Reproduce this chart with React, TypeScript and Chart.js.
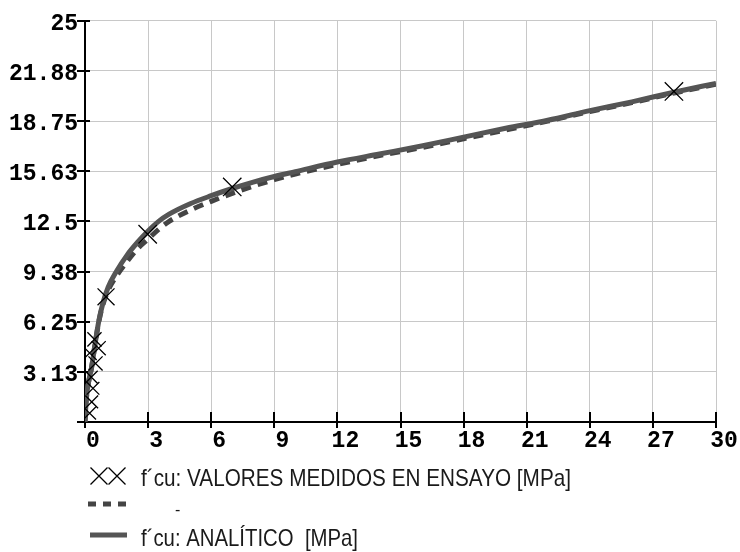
import React, { useEffect, useRef } from "react";
import { Chart, registerables } from "chart.js";

Chart.register(...registerables);

// ---- data ----
const xTickValues = [0, 3, 6, 9, 12, 15, 18, 21, 24, 27, 30];
const xTickLabels = ["0", "3", "6", "9", "12", "15", "18", "21", "24", "27", "30"];
const yTickValues = [0, 3.125, 6.25, 9.375, 12.5, 15.625, 18.75, 21.875, 25];
const yTickLabels = ["", "3.13", "6.25", "9.38", "12.5", "15.63", "18.75", "21.88", "25"];

const measuredX = [0.22, 0.32, 0.38, 0.3, 0.5, 0.22, 0.65, 0.45, 1.0, 2.98, 7.0, 28.0];
const measuredY = [0.55, 1.25, 2.1, 2.8, 3.65, 4.3, 4.6, 5.15, 7.8, 11.7, 14.65, 20.6];
const measuredSize = [9, 9, 9, 9, 10, 10, 10, 10, 12, 13, 13, 13];

const curveX = [0, 0.05, 0.1, 0.2, 0.3, 0.45, 0.65, 0.85, 1.1, 1.5, 2, 2.5, 3, 3.5, 4, 5, 6, 7, 8, 9, 10, 12, 14, 16, 18, 20, 22, 24, 26, 28, 30];
const analyticY = [0, 1.2, 1.9, 2.7, 3.3, 4.6, 6.25, 7.4, 8.4, 9.4, 10.4, 11.2, 11.9, 12.5, 12.95, 13.6, 14.1, 14.55, 14.95, 15.3, 15.6, 16.2, 16.7, 17.2, 17.75, 18.3, 18.8, 19.4, 19.95, 20.55, 21.1];
const dashedY = [0, 1.2, 1.9, 2.7, 3.3, 4.6, 6.2, 7.3, 8.2, 9.1, 10.0, 10.8, 11.4, 12.0, 12.5, 13.2, 13.75, 14.25, 14.7, 15.1, 15.45, 16.05, 16.6, 17.1, 17.65, 18.2, 18.75, 19.35, 19.9, 20.5, 21.05];

const labelMeasured = "f\u00B4cu: VALORES MEDIDOS EN ENSAYO [MPa]";
const labelDashed = "-";
const labelAnalytic = "f\u00B4cu: ANAL\u00CDTICO  [MPa]";

const TICK_FONT = "bold 23px 'Liberation Mono', 'Courier New', monospace";
const LEGEND_FONT = "24px 'Liberation Sans Narrow', 'Liberation Sans', Arial, sans-serif";

function fitText(ctx: CanvasRenderingContext2D, text: string, x: number, y: number, w: number) {
  ctx.save();
  ctx.font = LEGEND_FONT;
  ctx.textBaseline = "alphabetic";
  ctx.textAlign = "left";
  const m = ctx.measureText(text).width;
  ctx.translate(x, y);
  ctx.scale(w / m, 1);
  ctx.fillStyle = "#1a1a1a";
  ctx.fillText(text, 0, 0);
  ctx.restore();
}

const tickMarks = {
  id: "tickMarks",
  beforeDatasetsDraw(chart: any) {
    const ctx = chart.ctx as CanvasRenderingContext2D;
    const { left, bottom } = chart.chartArea;
    const xs = chart.scales.x;
    const ys = chart.scales.y;
    ctx.save();
    ctx.strokeStyle = "#000";
    ctx.lineWidth = 2;
    ctx.beginPath();
    yTickValues.forEach((v) => {
      const p = Math.round(ys.getPixelForValue(v));
      ctx.moveTo(left - 8, p);
      ctx.lineTo(left + 5, p);
    });
    xTickValues.forEach((v) => {
      const p = Math.round(xs.getPixelForValue(v));
      ctx.moveTo(p, bottom - 10);
      ctx.lineTo(p, bottom + 6);
    });
    ctx.stroke();
    ctx.restore();
  },
};

const legendPlugin = {
  id: "customLegend",
  afterDraw(chart: any) {
    const ctx = chart.ctx as CanvasRenderingContext2D;
    ctx.save();
    // row 1: two crosses
    ctx.strokeStyle = "#000";
    ctx.lineWidth = 1.3;
    [99, 117].forEach((cx) => {
      const cy = 476;
      const r = 8.5;
      ctx.beginPath();
      ctx.moveTo(cx - r, cy - r);
      ctx.lineTo(cx + r, cy + r);
      ctx.moveTo(cx - r, cy + r);
      ctx.lineTo(cx + r, cy - r);
      ctx.stroke();
    });
    fitText(ctx, labelMeasured, 141, 486, 430);
    // row 2: dashed
    ctx.strokeStyle = "#444";
    ctx.lineWidth = 5;
    ctx.setLineDash([8, 7]);
    ctx.beginPath();
    ctx.moveTo(88, 504);
    ctx.lineTo(126, 504);
    ctx.stroke();
    ctx.setLineDash([]);
    ctx.font = "16px 'Liberation Sans', Arial, sans-serif";
    ctx.fillStyle = "#1a1a1a";
    ctx.fillText(labelDashed, 175, 515);
    // row 3: solid
    ctx.strokeStyle = "#555";
    ctx.lineWidth = 5;
    ctx.beginPath();
    ctx.moveTo(90, 535);
    ctx.lineTo(127, 535);
    ctx.stroke();
    fitText(ctx, labelAnalytic, 141, 546, 217);
    ctx.restore();
  },
};

export default function App() {
  const ref = useRef<HTMLCanvasElement | null>(null);
  useEffect(() => {
    if (!ref.current) return;
    const chart = new Chart(ref.current, {
      type: "scatter",
      data: {
        datasets: [
          {
            label: labelMeasured,
            data: measuredX.map((x, i) => ({ x, y: measuredY[i] })),
            pointStyle: "crossRot",
            pointRadius: measuredSize,
            pointBorderColor: "#000",
            pointBorderWidth: 1.3,
            borderColor: "#000",
            backgroundColor: "#000",
            showLine: false,
            order: 0,
          },
          {
            label: labelDashed,
            data: curveX.map((x, i) => ({ x, y: dashedY[i] })),
            showLine: true,
            borderColor: "#444",
            borderWidth: 5,
            borderDash: [10, 7],
            pointRadius: 0,
            cubicInterpolationMode: "monotone",
            order: 2,
          },
          {
            label: labelAnalytic,
            data: curveX.map((x, i) => ({ x, y: analyticY[i] })),
            showLine: true,
            borderColor: "#555",
            borderWidth: 5,
            pointRadius: 0,
            cubicInterpolationMode: "monotone",
            order: 1,
          },
        ],
      } as any,
      options: {
        responsive: false,
        animation: false,
        devicePixelRatio: 1,
        layout: { padding: { left: 0, top: 18, right: 24, bottom: 100 } },
        plugins: { legend: { display: false }, tooltip: { enabled: false } },
        scales: {
          x: {
            type: "linear",
            min: 0,
            max: 30,
            afterFit: (s: any) => {
              s.height = 30;
            },
            afterBuildTicks: (s: any) => {
              s.ticks = xTickValues.map((v) => ({ value: v }));
            },
            grid: { color: "#c8c8c8", lineWidth: 1, drawTicks: false },
            border: { display: true, color: "#000", width: 2 },
            ticks: {
              autoSkip: false,
              maxRotation: 0,
              padding: 5,
              labelOffset: 8,
              color: "#000",
              font: { family: "'Liberation Mono', 'Courier New', monospace", size: 23, weight: "bold" },
              callback: (_v: any, i: number) => xTickLabels[i],
            },
          },
          y: {
            type: "linear",
            min: 0,
            max: 25,
            afterFit: (s: any) => {
              s.width = 85;
            },
            afterBuildTicks: (s: any) => {
              s.ticks = yTickValues.map((v) => ({ value: v }));
            },
            grid: { color: "#c8c8c8", lineWidth: 1, drawTicks: false },
            border: { display: true, color: "#000", width: 2 },
            ticks: {
              autoSkip: false,
              padding: 7,
              labelOffset: 3,
              color: "#000",
              font: { family: "'Liberation Mono', 'Courier New', monospace", size: 23, weight: "bold" },
              callback: (_v: any, i: number) => yTickLabels[i],
            },
          },
        },
      } as any,
      plugins: [tickMarks, legendPlugin],
    });
    return () => chart.destroy();
  }, []);
  return (
    <div style={{ position: "absolute", left: 0, top: 0, width: 740, height: 552, background: "#fff" }}>
      <canvas ref={ref} width={740} height={552} style={{ width: 740, height: 552, display: "block" }} />
    </div>
  );
}
